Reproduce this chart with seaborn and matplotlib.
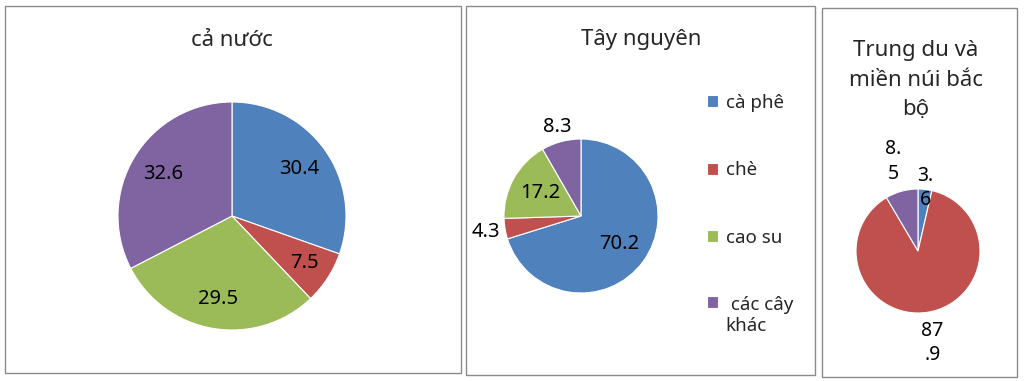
import matplotlib
matplotlib.use("Agg")
import matplotlib.pyplot as plt
from matplotlib.patches import Rectangle
import numpy as np
import seaborn as sns

# data
categories = ["cà phê", "chè", "cao su", "các cây khác"]
legend_labels = ["cà phê", "chè", "cao su", " các cây\nkhác"]
ca_nuoc = [30.4, 7.5, 29.5, 32.6]
tay_nguyen = [70.2, 4.3, 17.2, 8.3]
trung_du = [3.6, 87.9, 0.0, 8.5]
titles = ["cả nước", "Tây nguyên", "Trung du và\nmiền núi bắc\nbộ"]

sns.set_theme(style="white")
plt.rcParams['font.family'] = ['Noto Sans', 'DejaVu Sans']
colors = sns.color_palette(["#4F81BD", "#C0504D", "#9BBB59", "#8064A2"])

W, H = 1024, 381
fig = plt.figure(figsize=(W / 100, H / 100), dpi=100)
fig.patch.set_facecolor("white")

# panel frames (pixel boxes: left, top, right, bottom)
frames = [(5, 6, 461, 373), (466, 6, 815, 375), (822, 8, 1017, 377)]
for l, t, r, b in frames:
    fig.patches.append(Rectangle((l / W, 1 - b / H), (r - l) / W, (b - t) / H,
                                 transform=fig.transFigure, fill=False,
                                 edgecolor="#8a8a8a", linewidth=1.0))


def pie_axes(cx, cy, rad):
    ax = fig.add_axes([(cx - rad) / W, 1 - (cy + rad) / H, 2 * rad / W, 2 * rad / H])
    return ax


def draw_pie(ax, values, dists, fs, wrap=False):
    keep = [i for i, v in enumerate(values) if v > 0]
    vals = [values[i] for i in keep]
    cols = [colors[i] for i in keep]
    wedges, _ = ax.pie(vals, colors=cols, startangle=90, counterclock=False,
                       wedgeprops=dict(edgecolor="white", linewidth=0.8))
    ax.set_xlim(-1, 1)
    ax.set_ylim(-1, 1)
    for w, v, d in zip(wedges, vals, dists):
        th = np.deg2rad((w.theta1 + w.theta2) / 2)
        s = f"{v:.1f}"
        if wrap:
            s = s[:2] + "\n" + s[2:]
        ax.text(d * np.cos(th), d * np.sin(th), s, ha="center", va="center",
                fontsize=fs, color="black", linespacing=1.3)
    return wedges


ax1 = pie_axes(232, 216, 114)
draw_pie(ax1, ca_nuoc, [0.72, 0.76, 0.74, 0.71], 14.5)

ax2 = pie_axes(581, 216, 77)
w2 = draw_pie(ax2, tay_nguyen, [0.62, 1.25, 0.6, 1.2], 14.5)

ax3 = pie_axes(918, 251, 62)
draw_pie(ax3, trung_du, [1.02, 1.5, 1.5], 14, wrap=True)

fig.text(232 / W, 1 - 40 / H, titles[0], ha="center", va="center", fontsize=16)
fig.text(641 / W, 1 - 40 / H, titles[1], ha="center", va="center", fontsize=16)
fig.text(916 / W, 1 - 80 / H, titles[2], ha="center", va="center", fontsize=16,
         linespacing=1.55)

leg = fig.legend(w2, legend_labels, loc="upper left", bbox_to_anchor=(707 / W, 1 - 94 / H),
                 frameon=False, fontsize=13.5, handlelength=0.6, handleheight=0.6,
                 handletextpad=0.4, labelspacing=2.63, borderpad=0, borderaxespad=0)
# keep the square level with the first line of a wrapped label
for col in leg._legend_handle_box.get_children():
    col.get_children()[-1].align = "top"

fig.savefig("out.png", dpi=100, facecolor="white")
